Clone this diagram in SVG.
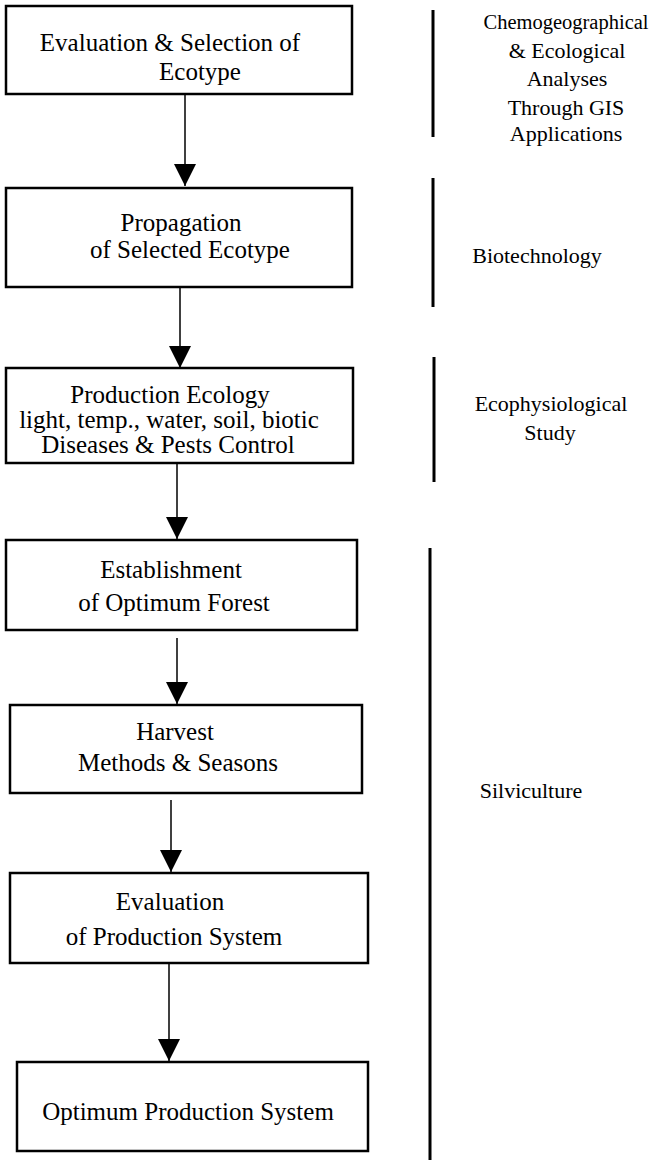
<svg xmlns="http://www.w3.org/2000/svg" width="652" height="1160" viewBox="0 0 652 1160">
<defs>
<style>
.box{fill:#fff;stroke:#000;stroke-width:2.5}
.t{font-family:"Liberation Serif","Times New Roman",serif;font-size:25px;fill:#000;text-anchor:middle}
.r{font-family:"Liberation Serif","Times New Roman",serif;font-size:22px;fill:#000;text-anchor:middle}
.c{stroke:#000;stroke-width:1.5;fill:none;marker-end:url(#ah)}
.bar{stroke:#000;stroke-width:3}
</style>
<marker id="ah" markerUnits="userSpaceOnUse" markerWidth="24" markerHeight="24" refX="22" refY="11" orient="auto">
<path d="M0,0 L22,11 L0,22 z" fill="#000"/>
</marker>
</defs>
<rect width="652" height="1160" fill="#fff"/>
<g id="connectors">
<line class="c" x1="185" y1="94" x2="185" y2="186"/>
<line class="c" x1="180" y1="288" x2="180" y2="368"/>
<line class="c" x1="177" y1="464" x2="177" y2="539"/>
<line class="c" x1="177" y1="638" x2="177" y2="704"/>
<line class="c" x1="171" y1="800" x2="171" y2="872"/>
<line class="c" x1="169" y1="964" x2="169" y2="1061"/>
</g>
<g id="n1"><rect class="box" x="6" y="6" width="346" height="88"/>
<text class="t" x="170" y="51">Evaluation &amp; Selection of</text>
<text class="t" x="200" y="80">Ecotype</text></g>
<g id="n2"><rect class="box" x="6" y="188" width="346" height="99"/>
<text class="t" x="181" y="231">Propagation</text>
<text class="t" x="190" y="258">of Selected Ecotype</text></g>
<g id="n3"><rect class="box" x="6" y="368" width="347" height="95"/>
<text class="t" x="170" y="403">Production Ecology</text>
<text class="t" x="169" y="428">light, temp., water, soil, biotic</text>
<text class="t" x="168" y="453">Diseases &amp; Pests Control</text></g>
<g id="n4"><rect class="box" x="6" y="540" width="351" height="90"/>
<text class="t" x="171" y="578">Establishment</text>
<text class="t" x="174" y="611">of Optimum Forest</text></g>
<g id="n5"><rect class="box" x="10" y="705" width="352" height="88"/>
<text class="t" x="175" y="740">Harvest</text>
<text class="t" x="178" y="771">Methods &amp; Seasons</text></g>
<g id="n6"><rect class="box" x="10" y="873" width="358" height="90"/>
<text class="t" x="170" y="910">Evaluation</text>
<text class="t" x="174" y="945">of Production System</text></g>
<g id="n7"><rect class="box" x="17" y="1062" width="351" height="89"/>
<text class="t" x="188" y="1120">Optimum Production System</text></g>
<g id="l1"><line class="bar" x1="433" y1="10" x2="433" y2="137"/>
<text class="r" x="566" y="29" style="font-size:20.5px">Chemogeographical</text>
<text class="r" x="567" y="58">&amp; Ecological</text>
<text class="r" x="567" y="86">Analyses</text>
<text class="r" x="566" y="115">Through GIS</text>
<text class="r" x="566" y="141">Applications</text></g>
<g id="l2"><line class="bar" x1="433" y1="178" x2="433" y2="307"/>
<text class="r" x="537" y="263">Biotechnology</text></g>
<g id="l3"><line class="bar" x1="434" y1="357" x2="434" y2="482"/>
<text class="r" x="551" y="411">Ecophysiological</text>
<text class="r" x="550" y="440">Study</text></g>
<g id="l4"><line class="bar" x1="430" y1="548" x2="430" y2="1160"/>
<text class="r" x="531" y="798">Silviculture</text></g>
</svg>
